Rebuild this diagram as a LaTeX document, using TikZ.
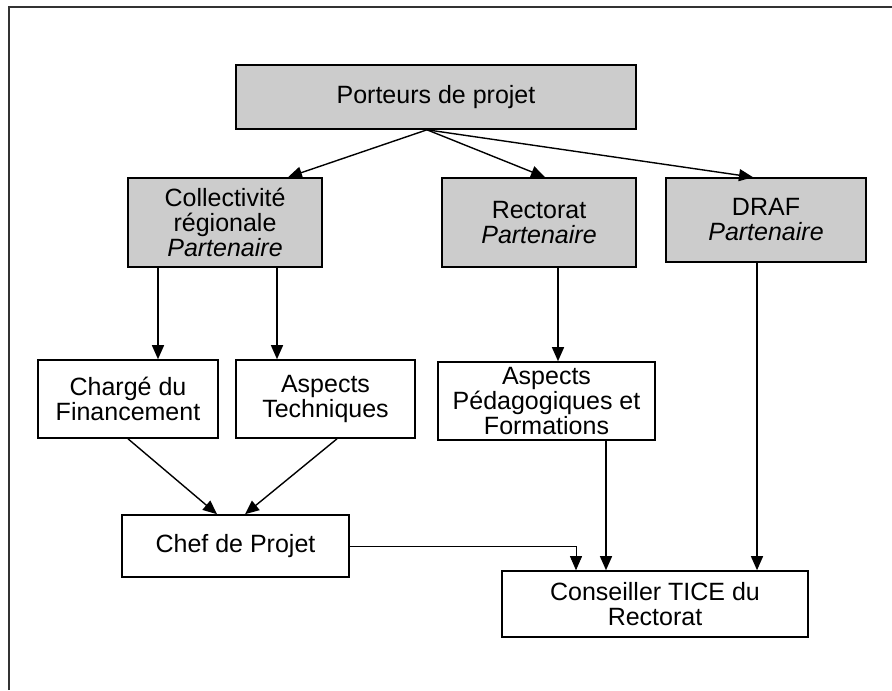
\documentclass[tikz,border=0pt]{standalone}
\usepackage{fontspec}
\setmainfont{Liberation Sans}
\usetikzlibrary{positioning}
\usetikzlibrary{arrows.meta}
\definecolor{boxgray}{HTML}{CCCCCC}
\tikzset{
    mynode/.style = {rectangle, draw=black, line width=0.8pt, align=center, inner sep=0pt, fill=white,font=\fontsize{12.5}{12.5}\selectfont},
    mynodeg/.style = {mynode, fill=boxgray},
    edgen/.style = {-{Triangle[length=7pt,width=6pt]},line width=0.7pt},
    edget/.style = {-{Triangle[length=7pt,width=6pt]},line width=0.4pt}, % thin
    frame/.style = {line width=1pt,draw=black!80}
}
\begin{document}
\begin{tikzpicture}[x=0.5pt,y=-0.5pt]
  \useasboundingbox (0,0) rectangle (892,690);
  \draw[frame] (9,690) -- (9,7) -- (892,7);

  % grey boxes
  \node[mynodeg, minimum width=200pt, minimum height=32pt] (porteurs) at (436,97) {Porteurs de projet};
  \node[mynodeg, minimum width=97pt, minimum height=44.5pt] (coll) at (225,222.5) {Collectivité\\régionale\\\textit{Partenaire}};
  \node[mynodeg, minimum width=97pt, minimum height=44.5pt] (rect) at (539,222.5) {Rectorat\\\textit{Partenaire}};
  \node[mynodeg, minimum width=100pt, minimum height=42pt] (draf) at (766,220) {DRAF\\\textit{Partenaire}};

  % white boxes
  \node[mynode, minimum width=90pt, minimum height=39pt] (charge) at (128,399) {Chargé du\\Financement};
  \node[mynode, minimum width=89.5pt, minimum height=39pt] (tech) at (325.5,399) {Aspects\\Techniques};
  \node[mynode, minimum width=108.5pt, minimum height=39pt] (ped) at (546.5,401) {Aspects\\Pédagogiques et\\Formations};
  \node[mynode, minimum width=113.5pt, minimum height=31pt] (chef) at (235.5,546) {Chef de Projet};
  \node[mynode, minimum width=153pt, minimum height=33pt] (cons) at (655,604) {Conseiller TICE du\\Rectorat};

  \coordinate (p0) at ([xshift=-4.5pt]porteurs.south);
  \coordinate (c1) at ([xshift=-33.5pt]coll.south);
  \coordinate (c2) at ([xshift=26pt]coll.south);
  \coordinate (r1) at ([xshift=9.5pt]rect.south);
  \coordinate (a1) at ([xshift=29.75pt]ped.south);
  \coordinate (d1) at ([xshift=-4.5pt]draf.south);
  \coordinate (k1) at ([xshift=-39.5pt]cons.north);

  \draw[edgen] (p0) -- ([xshift=31.5pt]coll.north);
  \draw[edgen] (p0) -- ([xshift=3pt]rect.north);
  \draw[edgen] (p0) -- ([xshift=-6.5pt]draf.north);
  \draw[edgen] (c1) -- (c1 |- charge.north);
  \draw[edgen] (c2) -- (c2 |- tech.north);
  \draw[edgen] (r1) -- (r1 |- ped.north);
  \draw[edgen] (charge.south) -- ([xshift=-9.25pt]chef.north);
  \draw[edgen] ([xshift=5.75pt]tech.south) -- ([xshift=4.75pt]chef.north);
  \draw[edgen] (a1) -- (a1 |- cons.north);
  \draw[edgen] (d1) -- (d1 |- cons.north);
  \draw[edget] (chef.east) -| (k1);
\end{tikzpicture}
\end{document}
